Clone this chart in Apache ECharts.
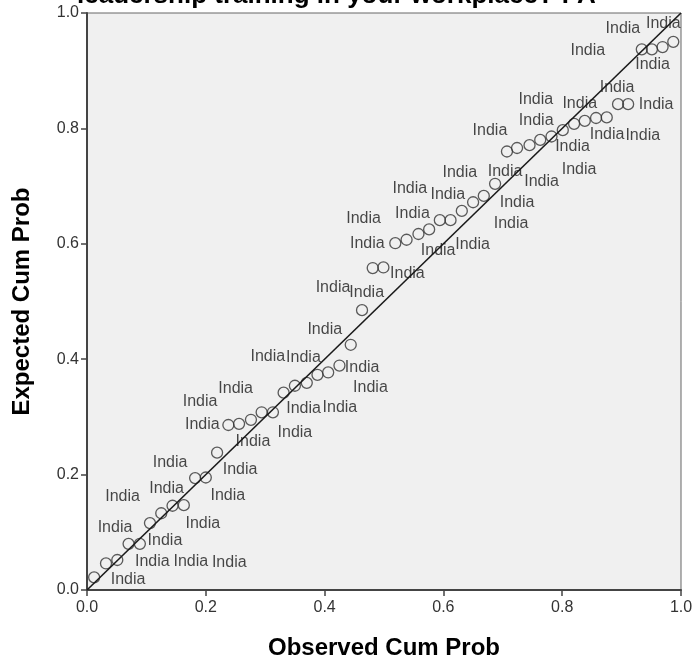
<!DOCTYPE html>
<html>
<head>
<meta charset="utf-8">
<script src="https://cdn.jsdelivr.net/npm/echarts@6/dist/echarts.min.js"></script>
<style>
  html, body { margin: 0; padding: 0; background: #fff; }
  #chart { width: 692px; height: 660px; }
</style>
</head>
<body>
<div id="chart"></div>
<script>
// observed / expected cumulative probabilities
const observed = [
  0.012, 0.032, 0.051, 0.070, 0.089, 0.106, 0.125, 0.144, 0.163, 0.182,
  0.200, 0.219, 0.238, 0.256, 0.276, 0.294, 0.313, 0.331, 0.350, 0.370,
  0.388, 0.406, 0.425, 0.444, 0.463, 0.481, 0.499, 0.519, 0.538, 0.558,
  0.576, 0.594, 0.612, 0.631, 0.650, 0.668, 0.687, 0.707, 0.724, 0.745,
  0.763, 0.782, 0.801, 0.820, 0.838, 0.857, 0.875, 0.894, 0.911, 0.934,
  0.951, 0.969, 0.987
];
const expected = [
  0.022, 0.046, 0.052, 0.080, 0.080, 0.116, 0.133, 0.146, 0.147, 0.194,
  0.195, 0.238, 0.286, 0.288, 0.295, 0.308, 0.308, 0.342, 0.354, 0.359,
  0.373, 0.377, 0.389, 0.425, 0.485, 0.558, 0.559, 0.601, 0.607, 0.617,
  0.625, 0.641, 0.641, 0.657, 0.672, 0.683, 0.704, 0.760, 0.766, 0.771,
  0.780, 0.786, 0.797, 0.808, 0.813, 0.818, 0.819, 0.842, 0.842, 0.937,
  0.937, 0.941, 0.950
];
const caseLabel = "India";
const diagonal = [[0, 0], [1, 1]];

// where each case label sits relative to its point (px)
const labelOffsets = [
  [34, 2], [9, -36], [35, 2], [-6, -47], [51, 18], [15, 18], [68, 49], [-6, -17], [19, 18], [-25, -15],
  [22, 18], [23, 17], [-26, 0], [-39, -22], [2, 22], [-26, -24], [22, 20], [20, 16], [45, 22], [-39, -26],
  [-14, -17], [34, -5], [31, 22], [-26, -15], [-29, -23], [-6, 25], [24, 6], [-28, 0], [-43, -21], [-6, -20],
  [9, 21], [-30, -32], [22, 24], [-14, -16], [38, 21], [-24, -23], [22, 19], [-17, -21], [-12, 24], [12, 36],
  [-4, -19], [21, 10], [-27, -31], [5, 46], [-5, -17], [11, 17], [36, 18], [-1, -17], [28, 0], [-54, 1],
  [-29, -21], [-10, 18], [-10, -18]
];

const font = "Arial, 'Liberation Sans', sans-serif";

const points = observed.map((x, i) => [x, expected[i]]);

const chart = echarts.init(document.getElementById("chart"), null, { renderer: "canvas" });

const axisCommon = {
  type: "value",
  min: 0,
  max: 1,
  interval: 0.2,
  splitLine: { show: false },
  axisLine: { show: true, onZero: false, lineStyle: { color: "#444", width: 2 } },
  axisTick: { show: true, length: 6, lineStyle: { color: "#444", width: 1.5 } },
  axisLabel: {
    color: "#333",
    fontSize: 16,
    fontFamily: font,
    formatter: (v) => v.toFixed(1)
  }
};

const nameStyle = { fontSize: 24, fontWeight: "bold", color: "#000", fontFamily: font };

const option = {
  animation: false,
  backgroundColor: "#fff",
  grid: {
    left: 87,
    right: 11,
    top: 13,
    bottom: 70,
    outerBoundsMode: "none",
    show: true,
    backgroundColor: "#f0f0f0",
    borderColor: "#666",
    borderWidth: 1
  },
  graphic: [
    {
      type: "text",
      left: 77,
      top: -17,
      style: {
        text: "leadership training in your workplace? : A",
        font: "bold 26px " + font,
        fill: "#000"
      }
    }
  ],
  xAxis: Object.assign({}, axisCommon, {
    name: "Observed Cum Prob",
    nameLocation: "middle",
    nameGap: 46,
    nameTextStyle: nameStyle,
    axisLabel: Object.assign({}, axisCommon.axisLabel, { margin: 10 })
  }),
  yAxis: Object.assign({}, axisCommon, {
    name: "Expected Cum Prob",
    nameLocation: "middle",
    nameGap: 53,
    nameTextStyle: nameStyle,
    axisLabel: Object.assign({}, axisCommon.axisLabel, { margin: 8 })
  }),
  series: [
    {
      type: "line",
      data: diagonal,
      symbol: "none",
      silent: true,
      lineStyle: { color: "#1a1a1a", width: 1.6 },
      z: 3
    },
    {
      type: "scatter",
      data: points,
      symbol: "circle",
      symbolSize: 11,
      itemStyle: { color: "transparent", borderColor: "#333", borderWidth: 1.3 },
      label: {
        show: true,
        position: "inside",
        formatter: caseLabel,
        fontSize: 16,
        fontFamily: font,
        color: "#1a1a1a"
      },
      labelLayout: (params) => ({
        dx: labelOffsets[params.dataIndex][0],
        dy: labelOffsets[params.dataIndex][1],
        hideOverlap: false
      }),
      z: 2
    }
  ]
};

chart.setOption(option);
</script>
</body>
</html>
